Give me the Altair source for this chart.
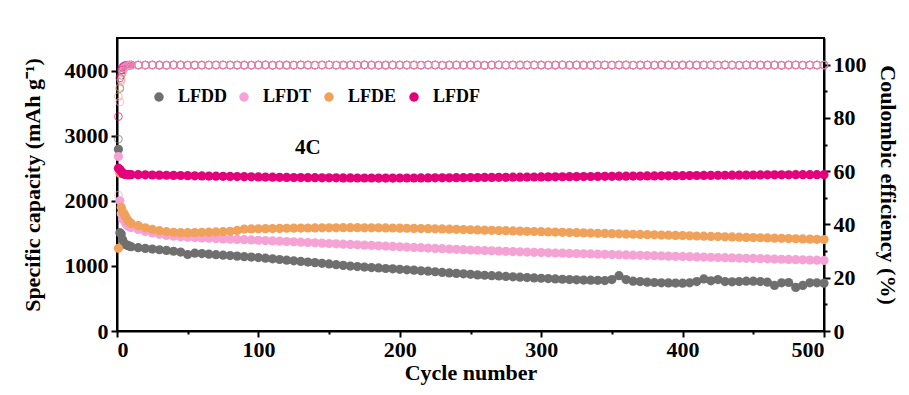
import altair as alt
import pandas as pd

SERIES = ["LFDD", "LFDT", "LFDE", "LFDF"]
COLORS = ["#6f6f6f", "#f5a3d4", "#f0a15a", "#e4007a"]

CYCLES = [1, 2, 3, 4, 5, 6, 7, 8, 9, 10] + list(range(15, 505, 5))

# Specific capacity (mAh g-1)
CAP_LFDD = [2790, 1510, 1490, 1400, 1340, 1330, 1320, 1310, 1300, 1295,
            1280, 1268, 1258, 1248, 1238, 1225, 1212, 1175, 1195, 1190,
            1180, 1172, 1165, 1158, 1150, 1142, 1135, 1128, 1118, 1108,
            1098, 1088, 1078, 1068, 1058, 1050, 1040, 1030, 1018, 1008,
            998, 990, 982, 975, 968, 960, 955, 948, 940, 935,
            925, 918, 910, 900, 892, 885, 878, 870, 862, 856,
            850, 845, 838, 832, 826, 820, 815, 810, 806, 800,
            795, 790, 786, 783, 780, 778, 775, 790, 850, 790,
            765, 760, 750, 745, 740, 738, 736, 735, 740, 760,
            800, 770, 790, 760, 755, 760, 765, 765, 760, 750,
            700, 740, 745, 670, 700, 740, 740, 735]
CAP_LFDT = [2680, 2000, 1800, 1720, 1700, 1660, 1630, 1610, 1600, 1590,
            1560, 1530, 1505, 1485, 1468, 1455, 1447, 1440, 1435, 1430,
            1425, 1420, 1415, 1410, 1406, 1402, 1398, 1394, 1389, 1384,
            1379, 1374, 1369, 1364, 1359, 1354, 1349, 1344, 1339, 1334,
            1329, 1324, 1319, 1314, 1309, 1304, 1299, 1294, 1289, 1284,
            1279, 1274, 1269, 1264, 1259, 1254, 1249, 1244, 1240, 1236,
            1232, 1228, 1224, 1220, 1216, 1212, 1208, 1204, 1201, 1198,
            1195, 1192, 1189, 1186, 1183, 1180, 1177, 1174, 1171, 1168,
            1165, 1162, 1159, 1156, 1153, 1150, 1147, 1144, 1141, 1138,
            1135, 1132, 1129, 1126, 1123, 1120, 1117, 1114, 1111, 1108,
            1105, 1102, 1099, 1096, 1093, 1090, 1087, 1084]
CAP_LFDE = [1270, 2420, 1900, 1830, 1800, 1760, 1720, 1690, 1670, 1650,
            1620, 1585, 1560, 1540, 1525, 1515, 1510, 1510, 1512, 1515,
            1518, 1522, 1526, 1532, 1545, 1565, 1568, 1570, 1572, 1574,
            1576, 1578, 1580, 1581, 1582, 1583, 1584, 1585, 1585, 1586,
            1586, 1586, 1585, 1585, 1584, 1583, 1582, 1580, 1578, 1576,
            1574, 1572, 1570, 1567, 1564, 1561, 1558, 1555, 1552, 1549,
            1546, 1543, 1540, 1537, 1534, 1531, 1528, 1525, 1522, 1519,
            1516, 1513, 1510, 1507, 1504, 1501, 1498, 1495, 1492, 1489,
            1486, 1483, 1480, 1477, 1474, 1471, 1468, 1465, 1462, 1459,
            1456, 1453, 1450, 1447, 1444, 1441, 1438, 1435, 1432, 1429,
            1426, 1423, 1420, 1417, 1414, 1411, 1408, 1405]
CAP_LFDF = [2500, 2480, 2450, 2420, 2410, 2405, 2400, 2400, 2400, 2400,
            2400, 2398, 2396, 2394, 2392, 2390, 2388, 2386, 2384, 2382,
            2380, 2378, 2376, 2374, 2372, 2370, 2368, 2366, 2364, 2362,
            2360, 2358, 2357, 2356, 2355, 2354, 2353, 2352, 2352, 2351,
            2351, 2350, 2350, 2350, 2349, 2349, 2349, 2350, 2350, 2350,
            2351, 2351, 2352, 2352, 2353, 2354, 2355, 2356, 2357, 2358,
            2359, 2360, 2361, 2362, 2363, 2364, 2365, 2366, 2367, 2368,
            2369, 2370, 2371, 2372, 2373, 2374, 2375, 2376, 2377, 2378,
            2379, 2380, 2381, 2382, 2383, 2384, 2385, 2386, 2387, 2388,
            2389, 2390, 2391, 2392, 2393, 2394, 2395, 2396, 2397, 2398,
            2398, 2399, 2399, 2400, 2400, 2400, 2401, 2401]

# Coulombic efficiency (%)
CE_LFDD = [72, 91, 96, 98, 99, 99.4, 99.6, 99.7, 99.8, 99.8,
           99.8, 99.9, 99.8, 99.7, 99.8, 99.9, 99.8, 99.8, 99.7, 99.8,
           99.9, 99.8, 99.8, 99.9, 99.8, 99.7, 99.8, 99.8, 99.9, 99.8,
           99.8, 99.7, 99.8, 99.9, 99.8, 99.8, 99.8, 99.9, 99.8, 99.7,
           99.8, 99.8, 99.9, 99.8, 99.8, 99.7, 99.8, 99.9, 99.8, 99.8,
           99.8, 99.9, 99.8, 99.7, 99.8, 99.8, 99.9, 99.8, 99.8, 99.7,
           99.8, 99.9, 99.8, 99.8, 99.8, 99.9, 99.8, 99.7, 99.8, 99.8,
           99.9, 99.8, 99.8, 99.7, 99.8, 99.9, 99.8, 99.8, 99.8, 99.9,
           99.8, 99.7, 99.8, 99.8, 99.9, 99.8, 99.8, 99.7, 99.8, 99.9,
           99.8, 99.8, 99.8, 99.9, 99.8, 99.7, 99.8, 99.8, 99.9, 99.8,
           99.8, 99.7, 99.8, 99.9, 99.8, 99.8, 99.8, 99.9]
CE_LFDT = [51, 86, 94, 97.5, 98.8, 99.3, 99.6, 99.7, 99.8, 99.8,
           99.9, 99.8, 99.8, 99.9, 99.8, 99.8, 99.9, 99.8, 99.8, 99.9,
           99.8, 99.8, 99.9, 99.8, 99.8, 99.9, 99.8, 99.8, 99.9, 99.8,
           99.8, 99.9, 99.8, 99.8, 99.9, 99.8, 99.8, 99.9, 99.8, 99.8,
           99.9, 99.8, 99.8, 99.9, 99.8, 99.8, 99.9, 99.8, 99.8, 99.9,
           99.8, 99.8, 99.9, 99.8, 99.8, 99.9, 99.8, 99.8, 99.9, 99.8,
           99.8, 99.9, 99.8, 99.8, 99.9, 99.8, 99.8, 99.9, 99.8, 99.8,
           99.9, 99.8, 99.8, 99.9, 99.8, 99.8, 99.9, 99.8, 99.8, 99.9,
           99.8, 99.8, 99.9, 99.8, 99.8, 99.9, 99.8, 99.8, 99.9, 99.8,
           99.8, 99.9, 99.8, 99.8, 99.9, 99.8, 99.8, 99.9, 99.8, 99.8,
           99.9, 99.8, 99.8, 99.9, 99.8, 99.8, 99.9, 99.8]
CE_LFDE = [88, 91.5, 94.5, 97, 98.5, 99.2, 99.5, 99.7, 99.8, 99.8,
           99.8, 99.8, 99.9, 99.8, 99.7, 99.8, 99.8, 99.9, 99.8, 99.7,
           99.8, 99.8, 99.9, 99.8, 99.7, 99.8, 99.8, 99.9, 99.8, 99.7,
           99.8, 99.8, 99.9, 99.8, 99.7, 99.8, 99.8, 99.9, 99.8, 99.7,
           99.8, 99.8, 99.9, 99.8, 99.7, 99.8, 99.8, 99.9, 99.8, 99.7,
           99.8, 99.8, 99.9, 99.8, 99.7, 99.8, 99.8, 99.9, 99.8, 99.7,
           99.8, 99.8, 99.9, 99.8, 99.7, 99.8, 99.8, 99.9, 99.8, 99.7,
           99.8, 99.8, 99.9, 99.8, 99.7, 99.8, 99.8, 99.9, 99.8, 99.7,
           99.8, 99.8, 99.9, 99.8, 99.7, 99.8, 99.8, 99.9, 99.8, 99.7,
           99.8, 99.8, 99.9, 99.8, 99.7, 99.8, 99.8, 99.9, 99.8, 99.7,
           99.8, 99.8, 99.9, 99.8, 99.7, 99.8, 99.8, 99.9]
CE_LFDF = [80.5, 95, 98, 99, 99.5, 99.7, 99.8, 99.8, 99.8, 99.9,
           99.9, 99.8, 99.9, 99.9, 99.8, 99.9, 99.9, 99.8, 99.9, 99.9,
           99.8, 99.9, 99.9, 99.8, 99.9, 99.9, 99.8, 99.9, 99.9, 99.8,
           99.9, 99.9, 99.8, 99.9, 99.9, 99.8, 99.9, 99.9, 99.8, 99.9,
           99.9, 99.8, 99.9, 99.9, 99.8, 99.9, 99.9, 99.8, 99.9, 99.9,
           99.8, 99.9, 99.9, 99.8, 99.9, 99.9, 99.8, 99.9, 99.9, 99.8,
           99.9, 99.9, 99.8, 99.9, 99.9, 99.8, 99.9, 99.9, 99.8, 99.9,
           99.9, 99.8, 99.9, 99.9, 99.8, 99.9, 99.9, 99.8, 99.9, 99.9,
           99.8, 99.9, 99.9, 99.8, 99.9, 99.9, 99.8, 99.9, 99.9, 99.8,
           99.9, 99.9, 99.8, 99.9, 99.9, 99.8, 99.9, 99.9, 99.8, 99.9,
           99.9, 99.8, 99.9, 99.9, 99.8, 99.9, 99.9, 99.8]

X_TICKS = [0, 50, 100, 150, 200, 250, 300, 350, 400, 450, 500]
Y_TICKS = [0, 500, 1000, 1500, 2000, 2500, 3000, 3500, 4000]
CE_TICKS = [0, 10, 20, 30, 40, 50, 60, 70, 80, 90, 100]

FONT = "Liberation Serif"

cap_rows = []
for name, vals in zip(SERIES, [CAP_LFDD, CAP_LFDT, CAP_LFDE, CAP_LFDF]):
    for c, v in zip(CYCLES, vals):
        cap_rows.append({"cycle": c, "cap": v, "series": name})
cap_df = pd.DataFrame(cap_rows)

ce_rows = []
for name, vals in [("LFDD", CE_LFDD), ("LFDE", CE_LFDE), ("LFDF", CE_LFDF), ("LFDT", CE_LFDT)]:
    for c, v in zip(CYCLES, vals):
        ce_rows.append({"cycle": c, "ce": v, "series": name})
ce_df = pd.DataFrame(ce_rows)


def tick_size(step):
    return {"condition": {"test": f"datum.value % {step} === 0", "value": 6}, "value": 3}


x_enc = alt.X("cycle:Q", scale=alt.Scale(domain=[0, 500], nice=False, zero=False),
              axis=alt.Axis(title="Cycle number", values=X_TICKS,
                            labelExpr="datum.value % 100 === 0 ? datum.label : ''",
                            tickSize=tick_size(100), titlePadding=2, labelPadding=2))

cap_layer = alt.Chart(cap_df).mark_circle(size=85, opacity=1).encode(
    x=x_enc,
    y=alt.Y("cap:Q", scale=alt.Scale(domain=[0, 4500], nice=False),
            axis=alt.Axis(title="Specific capacity (mAh g\u207b\u00b9)", orient="left",
                          values=Y_TICKS,
                          labelExpr="datum.value % 1000 === 0 ? datum.label : ''",
                          tickSize=tick_size(1000), format="d", titlePadding=20)),
    color=alt.Color("series:N", scale=alt.Scale(domain=SERIES, range=COLORS),
                    legend=alt.Legend(orient="none", legendX=33, legendY=50,
                                      direction="horizontal", title=None,
                                      symbolType="circle", symbolSize=90,
                                      symbolStrokeWidth=0, labelFont=FONT,
                                      labelFontSize=18, labelFontWeight="bold",
                                      labelOffset=10, columnPadding=8)),
)

label_4c = alt.Chart(pd.DataFrame({"t": ["4C"]})).mark_text(
    font=FONT, fontSize=21, fontWeight="bold", color="black"
).encode(
    x=alt.datum(135),
    y=alt.datum(2810, scale=alt.Scale(domain=[0, 4500], nice=False)),
    text="t:N",
)

left = alt.layer(cap_layer, label_4c)

ce_layer = alt.Chart(ce_df).mark_point(shape="circle", filled=False, size=60, strokeWidth=1).encode(
    x=alt.X("cycle:Q", scale=alt.Scale(domain=[0, 500], nice=False, zero=False)),
    y=alt.Y("ce:Q", scale=alt.Scale(domain=[0, 110], nice=False),
            axis=alt.Axis(title="Coulombic efficiency (%)", orient="right",
                          values=CE_TICKS,
                          labelExpr="datum.value % 20 === 0 ? datum.label : ''",
                          tickSize=tick_size(20), titlePadding=9)),
    color=alt.Color("series:N", scale=alt.Scale(domain=SERIES, range=COLORS), legend=None),
)

chart = alt.layer(left, ce_layer).resolve_scale(
    y="independent", color="independent"
).properties(
    width=707, height=293,
    padding={"left": 109, "top": 30, "right": 75, "bottom": 55},
    autosize=alt.AutoSizeParams(type="none"),
).configure_view(
    stroke="black", strokeWidth=2
).configure_axis(
    labelFont=FONT, labelFontSize=22, labelFontWeight="bold", labelColor="black",
    titleFont=FONT, titleFontSize=22, titleFontWeight="bold", titleColor="black",
    domainColor="black", domainWidth=2, tickColor="black", tickWidth=2,
    grid=False, labelPadding=3,
)

chart.save("out.html", embed_options={"renderer": "svg", "actions": False})
